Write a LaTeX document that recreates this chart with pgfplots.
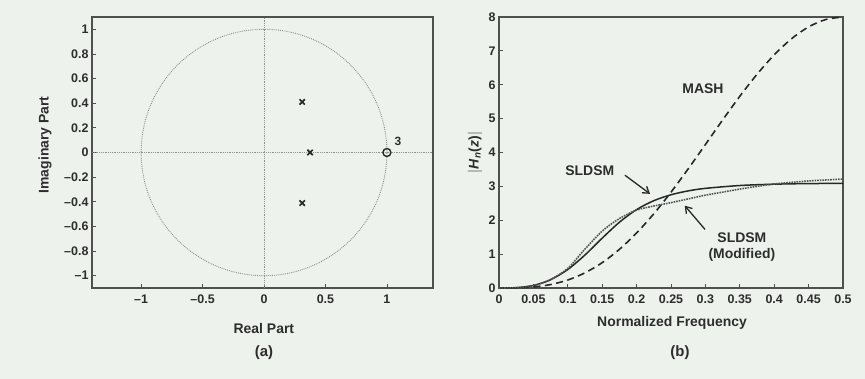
\documentclass[border=0pt]{standalone}
\usepackage{fontspec}
\setmainfont{Liberation Sans}
\usepackage{pgfplots}
\pgfplotsset{compat=1.18}
\usetikzlibrary{arrows.meta}
\definecolor{bgc}{RGB}{237,242,236}
\definecolor{axc}{RGB}{80,80,80}
\definecolor{txc}{RGB}{45,45,45}
\definecolor{gridc}{RGB}{145,145,145}
\definecolor{curvc}{RGB}{40,40,40}
\begin{document}
\begin{tikzpicture}
\fill[bgc] (0,0) rectangle (865bp,379bp);
\useasboundingbox (0,0) rectangle (865bp,379bp);
\pgfplotsset{myax/.style={
  scale only axis,
  axis line style={axc, line width=1.3bp},
  tick style={axc, line width=0.8bp},
  major tick length=4bp,
  tick align=inside,
  xtick pos=left, ytick pos=left,
  /pgf/number format/assume math mode=true,
  tick label style={font=\fontsize{12.5}{12.5}\selectfont\bfseries, text=txc},
  xticklabel style={yshift=-3bp},
  label style={font=\fontsize{14}{14}\selectfont\bfseries, text=txc},
  clip=false,
}}
% ---------- (a) pole-zero plot ----------
\begin{axis}[myax,
  at={(92bp,91bp)}, anchor=south west,
  width=341bp, height=271bp,
  xmin=-1.4, xmax=1.375, ymin=-1.1, ymax=1.1,
  xtick={-1,-0.5,0,0.5,1},
  xticklabels={{\textendash1},{\textendash0.5},0,0.5,1},
  ytick={-1,-0.8,-0.6,-0.4,-0.2,0,0.2,0.4,0.6,0.8,1},
  yticklabels={{\textendash1},{\textendash0.8},{\textendash0.6},{\textendash0.4},{\textendash0.2},0,0.2,0.4,0.6,0.8,1},
  xlabel={Real Part}, ylabel={Imaginary Part},
  xlabel style={at={(axis description cs:0.504,-0.148)}, anchor=center},
  ylabel style={at={(axis description cs:-0.138,0.528)}, anchor=center},
]
\draw[gridc, densely dotted, line width=0.8bp] (axis cs:-1.4,0) -- (axis cs:1.375,0);
\draw[gridc, densely dotted, line width=0.8bp] (axis cs:0,-1.1) -- (axis cs:0,1.1);
\draw[gridc, densely dotted, line width=0.9bp] (axis cs:0,0) ellipse [x radius=1, y radius=1];
\addplot[only marks, mark=x, mark size=3.8bp, mark options={curvc, line width=1.6bp}]
  coordinates {(0.31,0.41) (0.31,-0.41) (0.375,0)};
\addplot[only marks, mark=o, mark size=4bp, mark options={curvc, line width=1.4bp}]
  coordinates {(1,0)};
\node[font=\fontsize{12}{12}\selectfont\bfseries, text=txc] at (axis cs:1.09,0.09) {3};
\end{axis}
% ---------- (b) NTF magnitude ----------
\begin{axis}[myax,
  at={(499bp,91bp)}, anchor=south west,
  width=344bp, height=271bp,
  xmin=0, xmax=0.5, ymin=0, ymax=8,
  xtick={0,0.05,0.1,0.15,0.2,0.25,0.3,0.35,0.4,0.45,0.5},
  xticklabels={0,0.05,0.1,0.15,0.2,0.25,0.3,0.35,0.4,0.45,0.5},
  ytick={0,1,2,3,4,5,6,7,8},
  xlabel={Normalized Frequency},
  ylabel={$|$\textit{H}\textsubscript{\textit{n}}(\textit{z})$|$},
  xlabel style={at={(axis description cs:0.503,-0.13)}, anchor=center},
  ylabel style={at={(axis description cs:-0.07,0.5)}, anchor=center},
]
% MASH
\addplot[curvc, line width=1.6bp, dash pattern=on 7bp off 4.5bp, smooth] coordinates {
(0,0)(0.025,0.0039)(0.05,0.0306)(0.075,0.1018)(0.1,0.2361)(0.125,0.4483)(0.15,0.7486)
(0.175,1.1412)(0.2,1.6246)(0.225,2.1914)(0.25,2.8284)(0.275,3.5174)(0.3,4.2361)
(0.325,4.9589)(0.35,5.6589)(0.375,6.3086)(0.4,6.8819)(0.425,7.3550)(0.45,7.7081)
(0.475,7.9262)(0.5,8)};
% SLDSM
\addplot[curvc, line width=1.5bp, smooth] coordinates {
(0,0)(0.025,0.0096)(0.05,0.0749)(0.075,0.2441)(0.1,0.5467)(0.125,0.9760)(0.15,1.4721)
(0.175,1.9412)(0.2,2.3141)(0.225,2.5774)(0.25,2.7524)(0.275,2.8666)(0.3,2.9415)
(0.35,3.0254)(0.4,3.0647)(0.45,3.0826)(0.5,3.0879)};
% SLDSM (Modified)
\addplot[curvc!80, line width=1.6bp, densely dotted, smooth] coordinates {
(0,0)(0.025,0.01)(0.05,0.07)(0.075,0.25)(0.1,0.58)(0.125,1.15)(0.15,1.68)(0.175,2.05)
(0.2,2.3)(0.225,2.42)(0.25,2.52)(0.275,2.63)(0.3,2.74)(0.325,2.83)(0.35,2.92)
(0.375,3.0)(0.4,3.07)(0.45,3.16)(0.5,3.215)};
\node[font=\fontsize{14}{14}\selectfont\bfseries, text=txc] at (axis cs:0.2965,5.89) {MASH};
\node[font=\fontsize{14}{14}\selectfont\bfseries, text=txc] at (axis cs:0.132,3.46) {SLDSM};
\node[font=\fontsize{14}{16}\selectfont\bfseries, text=txc, align=center] at (axis cs:0.353,1.22) {SLDSM\\(Modified)};
\draw[-{Straight Barb[length=6bp,width=8bp]}, curvc, line width=1.3bp] (axis cs:0.183,3.33) -- (axis cs:0.2195,2.78);
\draw[-{Straight Barb[length=6bp,width=8bp]}, curvc, line width=1.3bp] (axis cs:0.2994,1.73) -- (axis cs:0.270,2.43);
\end{axis}
\node[font=\fontsize{15}{15}\selectfont\bfseries, text=txc] at (264bp,26bp) {(a)};
\node[font=\fontsize{15}{15}\selectfont\bfseries, text=txc] at (680bp,26bp) {(b)};
\end{tikzpicture}
\end{document}
